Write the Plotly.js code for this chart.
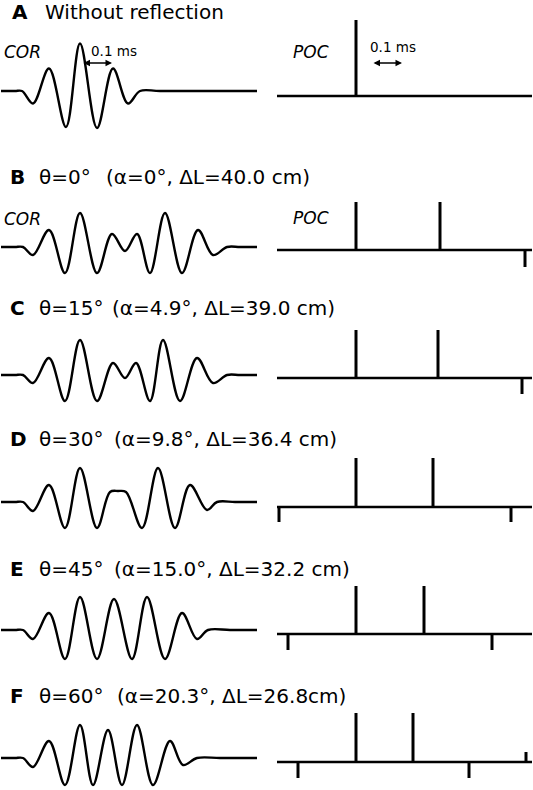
<!DOCTYPE html>
<html><head><meta charset="utf-8">
<script src="https://cdn.plot.ly/plotly-3.0.1.min.js"></script>
<style>html,body{margin:0;padding:0;background:#fff;}#chart{width:533px;height:790px;}</style>
</head><body><div id="chart"></div>
<script>
// ---------------- DATA ----------------
const rowLetters = ["A","B","C","D","E","F"];
const rowTheta   = ["Without reflection","θ=0°","θ=15°","θ=30°","θ=45°","θ=60°"];
const rowParams  = ["","(α=0°, ΔL=40.0 cm)","(α=4.9°, ΔL=39.0 cm)","(α=9.8°, ΔL=36.4 cm)","(α=15.0°, ΔL=32.2 cm)","(α=20.3°, ΔL=26.8cm)"];

// COR waveforms: sample time (1 sample = 1/300 ms) and amplitude (extrema)
const corT_A = [1,15,22,33,49,66,80,97,113,128,140,160,257];
const corV_A = [0,0,0,-12.5,22.5,-36,47.5,-37,22.5,-12.5,0,0,0];
const corT_B = [1,15,23,33,49,65,80,97,112,125,137,150,165,182,198,213,227,240,257];
const corV_B = [0,0,0,-8,17,-26,34,-26,13,-4,13,-26,34,-26,17,-8,0,0,0];
const corT_C = [1,15,23,33,49,65,80,97,113,125,136,150,163,180,197,213,227,240,257];
const corV_C = [0,0,0,-8,17,-26,35,-26,12,-3,12,-26,35,-26,17,-8,0,0,0];
const corT_D = [1,15,23,33,49,65,80,97,110,118,126,142,158,175,190,207,217,235,257];
const corV_D = [0,0,0,-9,17,-26,34,-26,10,11,10,-26,34,-26,17,-8,0,0,0];
const corT_E = [1,15,23,33,49,65,80,97,114,132,147,165,182,197,208,230,257];
const corV_E = [0,0,0,-9,17,-29,33,-29,31,-29,33,-29,17,-9,0,0,0];
const corT_F = [1,15,23,33,49,65,80,93,108,122,137,153,170,183,197,220,257];
const corV_F = [0,0,0,-9,17,-27,33,-27,28,-27,33,-27,17,-7,0,0,0];

// POC: window, spike positions and amplitudes
const pocWindow = [277,532];
const pocPos_A = [356];               const pocAmp_A = [76];
const pocPos_B = [356,440,525];       const pocAmp_B = [48,48,-17];
const pocPos_C = [356,438,522];       const pocAmp_C = [48,48,-16];
const pocPos_D = [279,356,433,511];   const pocAmp_D = [-15,49,49,-15];
const pocPos_E = [288,356,424,492];   const pocAmp_E = [-16,48,48,-16];
const pocPos_F = [298,356,413,469,526]; const pocAmp_F = [-16,49,49,-16,10];

const scaleBar = 30; // samples = 0.1 ms
const scaleLabel = "0.1 ms";

// ---------------- LAYOUT ----------------
const W = 533, H = 790;
const corT = [corT_A,corT_B,corT_C,corT_D,corT_E,corT_F];
const corV = [corV_A,corV_B,corV_C,corV_D,corV_E,corV_F];
const pocPos = [pocPos_A,pocPos_B,pocPos_C,pocPos_D,pocPos_E,pocPos_F];
const pocAmp = [pocAmp_A,pocAmp_B,pocAmp_C,pocAmp_D,pocAmp_E,pocAmp_F];

const corBase = [91,247,375,502,630,758];   // px
const pocBase = [96,250,378,507,634,762];   // px
const titleY  = [12,177,308,439,569,696];
const letterX = [10,8,8,8,8,8];
const thetaX  = [43,37,37,37,37,37];
const paramX  = [0,104,110,112,112,115];

const FONT = "DejaVu Sans, Liberation Sans, Arial, sans-serif";
const traces = [];
const layout = {
  width: W, height: H, margin:{l:0,r:0,t:0,b:0},
  paper_bgcolor:"#fff", plot_bgcolor:"rgba(0,0,0,0)",
  showlegend:false, annotations:[]
};
function axName(n){return n===1?"":String(n);}
function yDomain(B){
  const a0 = -Math.min(45, H-B), a1 = Math.min(88, B);
  return {domain:[Math.max(0,1-(B-a0)/H), Math.min(1,1-(B-a1)/H)], range:[a0,a1]};
}
for(let i=0;i<6;i++){
  const nl = 2*i+1, nr = 2*i+2;
  // left axes
  const yl = yDomain(corBase[i]), yr = yDomain(pocBase[i]);
  layout["xaxis"+axName(nl)] = {domain:[0,266/W], range:[0,266], visible:false, fixedrange:true, anchor:"y"+axName(nl)};
  layout["yaxis"+axName(nl)] = {domain:yl.domain, range:yl.range, visible:false, fixedrange:true, anchor:"x"+axName(nl)};
  layout["xaxis"+axName(nr)] = {domain:[266/W,1], range:[266,533], visible:false, fixedrange:true, anchor:"y"+axName(nr)};
  layout["yaxis"+axName(nr)] = {domain:yr.domain, range:yr.range, visible:false, fixedrange:true, anchor:"x"+axName(nr)};

  traces.push({x:corT[i], y:corV[i], xaxis:"x"+axName(nl), yaxis:"y"+axName(nl), mode:"lines",
    line:{color:"#000", width:2.4, shape:"spline", smoothing:1}, hoverinfo:"skip"});
  traces.push({x:pocWindow, y:[0,0], xaxis:"x"+axName(nr), yaxis:"y"+axName(nr), mode:"lines",
    line:{color:"#000", width:2.4}, hoverinfo:"skip"});
  const sx=[], sy=[];
  pocPos[i].forEach((p,k)=>{ sx.push(p,p,null); sy.push(0,pocAmp[i][k],null); });
  traces.push({x:sx, y:sy, xaxis:"x"+axName(nr), yaxis:"y"+axName(nr), mode:"lines",
    line:{color:"#000", width:3}, hoverinfo:"skip"});

  // titles
  const py = 1 - titleY[i]/H;
  layout.annotations.push({xref:"paper", yref:"paper", x:letterX[i]/W, y:py, xanchor:"left", yanchor:"middle",
    text:"<b>"+rowLetters[i]+"</b>", showarrow:false, font:{family:FONT, size:20, color:"#000"}});
  layout.annotations.push({xref:"paper", yref:"paper", x:thetaX[i]/W, y:py, xanchor:"left", yanchor:"middle",
    text:rowTheta[i], showarrow:false, font:{family:FONT, size:20, color:"#000"}});
  if(rowParams[i]) layout.annotations.push({xref:"paper", yref:"paper", x:paramX[i]/W, y:py, xanchor:"left", yanchor:"middle",
    text:rowParams[i], showarrow:false, font:{family:FONT, size:20, color:"#000"}});
}
// COR / POC labels (rows A and B)
[[52,51.5],[219,218]].forEach(([yc,yp])=>{
  layout.annotations.push({xref:"paper", yref:"paper", x:2/W, y:1-yc/H, xanchor:"left", yanchor:"middle",
    text:"<i>COR</i>", showarrow:false, font:{family:FONT, size:17, color:"#000"}});
  layout.annotations.push({xref:"paper", yref:"paper", x:291/W, y:1-yp/H, xanchor:"left", yanchor:"middle",
    text:"<i>POC</i>", showarrow:false, font:{family:FONT, size:17, color:"#000"}});
});
// scale bars (row A)
const arrowL = {x0:82, amp: corBase[0]-63}, arrowR = {x0:372, amp: pocBase[0]-63};
layout.annotations.push({xref:"x", yref:"y", axref:"x", ayref:"y", x:arrowL.x0+scaleBar, y:arrowL.amp, ax:arrowL.x0, ay:arrowL.amp,
  showarrow:true, arrowside:"end+start", arrowhead:2, arrowsize:1, arrowwidth:1.3, arrowcolor:"#000", text:""});
layout.annotations.push({xref:"x2", yref:"y2", axref:"x2", ayref:"y2", x:arrowR.x0+scaleBar, y:arrowR.amp, ax:arrowR.x0, ay:arrowR.amp,
  showarrow:true, arrowside:"end+start", arrowhead:2, arrowsize:1, arrowwidth:1.3, arrowcolor:"#000", text:""});
layout.annotations.push({xref:"paper", yref:"paper", x:89/W, y:1-51/H, xanchor:"left", yanchor:"middle",
  text:scaleLabel, showarrow:false, font:{family:FONT, size:13.5, color:"#000"}});
layout.annotations.push({xref:"paper", yref:"paper", x:368/W, y:1-47.5/H, xanchor:"left", yanchor:"middle",
  text:scaleLabel, showarrow:false, font:{family:FONT, size:13.5, color:"#000"}});

Plotly.newPlot("chart", traces, layout, {staticPlot:true, displayModeBar:false});
</script>
</body></html>
